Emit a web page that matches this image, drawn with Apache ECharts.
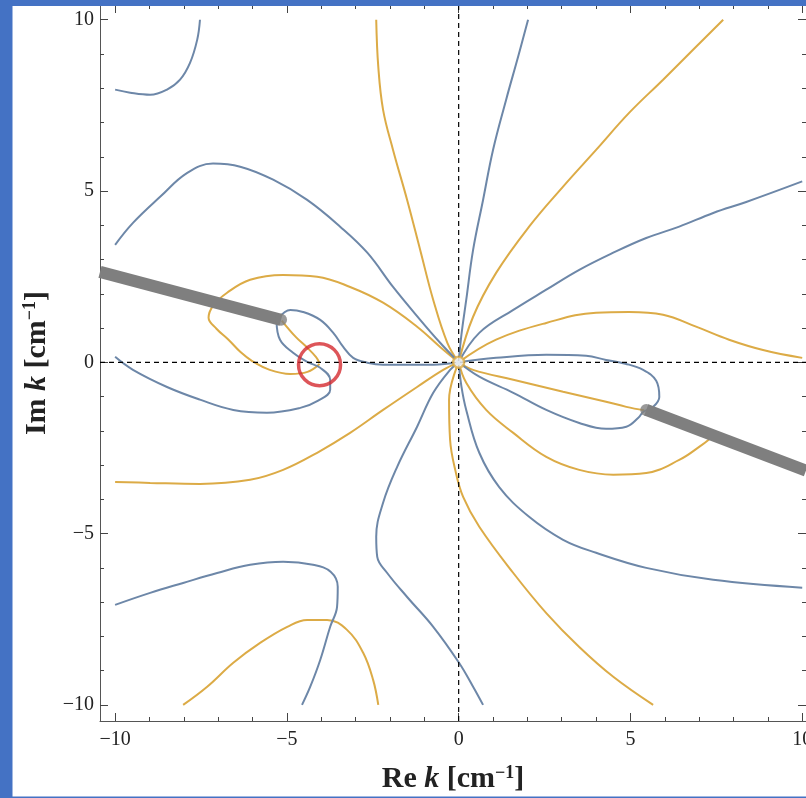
<!DOCTYPE html>
<html>
<head>
<meta charset="utf-8">
<script src="https://cdn.jsdelivr.net/npm/echarts@6/dist/echarts.min.js"></script>
<style>
html,body{margin:0;padding:0;background:#fff;overflow:hidden;}
#chart{width:806px;height:798px;}
</style>
</head>
<body>
<div id="chart"></div>
<script>
// ---- axis ticks / labels ----
const minorTicks = [-10,-9,-8,-7,-6,-5,-4,-3,-2,-1,0,1,2,3,4,5,6,7,8,9,10];
const majorTicks = [-10,-5,0,5,10];

// ---- blue contours (Re) ----
const blueTopLeft = [[-10,7.96],[-9.56,7.87],[-8.98,7.81],[-8.49,7.96],[-8.11,8.25],[-7.82,8.74],[-7.61,9.42],[-7.53,10]];
const blueLeftArch = [[-10,3.43],[-9.48,4.07],[-8.69,4.83],[-7.90,5.53],[-7.15,5.80],[-6.36,5.71],[-5.40,5.33],[-4.41,4.74],[-3.45,3.96],[-2.66,3.20],[-1.91,2.20],[-1.12,1.24],[-0.54,0.57],[0,0]];
const blueUpRight = [[0,0],[0.08,0.8],[0.22,1.82],[0.42,3.28],[0.71,4.74],[1.00,6.20],[1.38,7.66],[1.73,8.92],[2.02,10]];
const blueRight = [[0,0],[0.60,0.86],[1.59,1.53],[2.55,2.12],[3.51,2.70],[4.50,3.20],[5.46,3.63],[6.42,3.96],[7.41,4.36],[8.37,4.68],[10,5.28]];
const blueRightLoop = [[0,0],[1.09,0.13],[2.55,0.22],[3.71,0.19],[4.29,0.07],[4.85,-0.04],[5.37,-0.22],[5.75,-0.54],[5.84,-1.01],[5.66,-1.30],[5.37,-1.45],[5.23,-1.62],[4.88,-1.88],[4.29,-1.94],[3.51,-1.77],[2.55,-1.39],[1.59,-0.89],[0.60,-0.42],[0,0]];
const blueLowRight = [[0,0],[0.08,-0.7],[0.22,-1.39],[0.60,-2.64],[1.18,-3.64],[2.05,-4.51],[3.04,-5.18],[4.00,-5.56],[5.46,-6.00],[7.41,-6.35],[10,-6.58]];
const blueDown = [[0,0],[-0.25,-0.22],[-0.74,-0.89],[-1.21,-1.88],[-1.79,-3.05],[-2.20,-4.10],[-2.40,-5.09],[-2.37,-5.68],[-2.08,-6.15],[-1.50,-6.85],[-0.74,-7.72],[0.01,-8.77],[0.42,-9.47],[0.71,-10]];
const blueLowLeft = [[-10,-7.08],[-8.98,-6.73],[-8.02,-6.44],[-7.03,-6.15],[-6.07,-5.91],[-5.11,-5.82],[-4.24,-5.91],[-3.72,-6.12],[-3.52,-6.55],[-3.54,-7.14],[-3.74,-7.72],[-4.03,-8.69],[-4.32,-9.47],[-4.56,-10]];
const blueHookUpper = [[-5.25,1.28],[-4.90,1.53],[-4.53,1.47],[-4.03,1.24],[-3.65,0.86],[-3.36,0.45],[-3.07,0.13],[-2.66,-0.01],[-2.20,-0.07],[-0.74,-0.07],[0,0]];
const blueHookLower = [[-5.30,1.20],[-5.20,0.66],[-4.82,0.28],[-4.41,0.01],[-4.03,-0.16],[-3.74,-0.51],[-3.74,-0.80],[-4.09,-1.12],[-4.61,-1.33],[-5.58,-1.47],[-6.56,-1.39],[-7.53,-1.09],[-8.49,-0.72],[-9.48,-0.22],[-10,0.16]];

// ---- orange contours (Im) ----
const orangeUpLeft = [[-2.40,10],[-2.34,8.63],[-2.20,7.37],[-1.91,6.20],[-1.50,4.74],[-1.12,3.28],[-0.74,1.82],[-0.33,0.57],[0,0]];
const orangeUpRight = [[0,0],[0.42,1.33],[1.09,2.61],[2.05,3.96],[3.04,5.13],[4.00,6.20],[4.96,7.28],[5.95,8.25],[6.91,9.21],[7.70,10]];
const orangeRight = [[0,0],[1.09,0.66],[2.55,1.15],[4.00,1.45],[4.96,1.47],[5.95,1.39],[6.91,1.04],[7.87,0.66],[8.86,0.36],[10,0.13]];
const orangeToCut = [[0,0],[0.42,-0.22],[1.59,-0.51],[3.04,-0.86],[4.29,-1.15],[4.88,-1.30],[5.40,-1.40]];
const orangeRightLoop = [[0,0],[0.22,-0.60],[0.80,-1.39],[1.59,-2.06],[2.55,-2.76],[3.51,-3.14],[4.50,-3.28],[5.46,-3.23],[6.42,-2.85],[7.00,-2.47],[7.35,-2.20]];
const orangeDownRight = [[0,0],[-0.28,-1.10],[-0.25,-2.26],[-0.10,-3.14],[0.13,-3.93],[0.60,-4.80],[1.59,-6.15],[2.55,-7.32],[3.51,-8.31],[4.50,-9.18],[5.66,-10]];
const orangeLeft = [[-10,-3.49],[-8.98,-3.52],[-7.53,-3.55],[-6.07,-3.43],[-5.11,-3.14],[-4.12,-2.64],[-3.16,-2.06],[-2.20,-1.39],[-1.21,-0.72],[-0.45,-0.22],[0,0]];
const orangeLowArc = [[-8.02,-10],[-7.32,-9.47],[-6.56,-8.77],[-5.78,-8.19],[-4.99,-7.72],[-4.41,-7.52],[-3.83,-7.52],[-3.25,-7.81],[-2.78,-8.48],[-2.49,-9.27],[-2.34,-10]];
const orangeLeftLoop = [[0,0],[-0.54,0.45],[-1.21,1.04],[-2.20,1.74],[-3.16,2.20],[-4.12,2.50],[-5.11,2.55],[-6.07,2.41],[-6.74,2.03],[-7.15,1.65],[-7.28,1.30],[-7.05,0.98],[-6.70,0.66],[-6.35,0.30],[-6.00,0.03],[-5.50,-0.22],[-4.90,-0.34],[-4.40,-0.28],[-4.05,-0.05]];
const orangeCutToSaddle = [[-5.15,1.22],[-4.75,0.75],[-4.40,0.42],[-4.15,0.15],[-4.05,-0.02]];

// ---- branch cuts, markers ----
const cutLeft = [[-10.44,2.64],[-5.17,1.24]];
const cutRight = [[5.46,-1.39],[10.11,-3.16]];
const cutEnds = [[-5.17,1.24],[5.46,-1.39]];
const originPoint = [[0,0]];
const saddlePoint = [[-4.05,-0.07]];

const X_MIN = -10.44, X_MAX = 10.11, Y_MIN = -10.47, Y_MAX = 10.43;

const BLUE = '#6d87a8', ORANGE = '#dcab46', GRAY = '#7f7f7f', RED = '#d42a30';
const FONT = '"Liberation Serif","DejaVu Serif",serif';

const blueCurves = [blueTopLeft, blueLeftArch, blueUpRight, blueRight, blueRightLoop, blueLowRight, blueDown, blueLowLeft, blueHookUpper, blueHookLower];
const orangeCurves = [orangeUpLeft, orangeUpRight, orangeRight, orangeToCut, orangeRightLoop, orangeDownRight, orangeLeft, orangeLowArc, orangeLeftLoop, orangeCutToSaddle];

function curve(data, color) {
  return {type:'line', data, showSymbol:false, smooth:0.4, silent:true, z:2,
          lineStyle:{color, width:2}};
}
const series = [];
orangeCurves.forEach(d => series.push(curve(d, ORANGE)));
blueCurves.forEach(d => series.push(curve(d, BLUE)));
series.push({type:'line', data:[[0,Y_MIN],[0,Y_MAX]], showSymbol:false, silent:true, z:3,
  lineStyle:{color:'#000', width:1.2, type:[5,4]}});
series.push({type:'line', data:[[X_MIN,0],[X_MAX,0]], showSymbol:false, silent:true, z:3,
  lineStyle:{color:'#000', width:1.2, type:[5,4]}});
[cutLeft, cutRight].forEach(d => series.push({type:'line', data:d, showSymbol:false, silent:true, z:4,
  lineStyle:{color:GRAY, width:12, cap:'butt'}}));
series.push({type:'scatter', data:cutEnds, symbol:'circle', symbolSize:12, silent:true, z:4,
  itemStyle:{color:GRAY}});
series.push({type:'scatter', data:originPoint, symbol:'circle', symbolSize:11, silent:true, z:5,
  itemStyle:{color:'#fff', borderColor:ORANGE, borderWidth:2.5}});
series.push({type:'scatter', data:saddlePoint, symbol:'circle', symbolSize:42, silent:true, z:6,
  itemStyle:{color:'rgba(0,0,0,0)', borderColor:RED, borderWidth:3.5}});

const fmt = v => v < 0 ? '\u2212' + Math.abs(v) : String(v);
const nameRich = {
  b:{fontFamily:FONT, fontWeight:'bold', fontSize:30, color:'#222'},
  i:{fontFamily:FONT, fontWeight:'bold', fontStyle:'italic', fontSize:30, color:'#222'},
  s:{fontFamily:FONT, fontWeight:'bold', fontSize:18, color:'#222', verticalAlign:'top', lineHeight:18}
};
const axisLineStyle = {show:true, onZero:false, lineStyle:{color:'#555', width:1}};

function mkAxis(kind, position, ticks, len, withLabels) {
  return {type:'value', min: kind === 'x' ? X_MIN : Y_MIN, max: kind === 'x' ? X_MAX : Y_MAX,
    position, gridIndex:0,
    axisLine: ticks === minorTicks ? axisLineStyle : {show:false, onZero:false},
    axisTick:{show:true, inside:true, length:len, customValues:ticks, lineStyle:{color:'#444', width:1}},
    axisLabel: withLabels ? {show:true, customValues:majorTicks, formatter:fmt, margin: kind === 'x' ? 9 : 6,
       fontFamily:FONT, fontSize:20, color:'#222'} : {show:false},
    splitLine:{show:false}};
}

const xAxes = [mkAxis('x','bottom', minorTicks, 4, false), mkAxis('x','bottom', majorTicks, 8, true),
               mkAxis('x','top', minorTicks, 4, false), mkAxis('x','top', majorTicks, 8, false)];
xAxes[1].name = '{b|Re }{i|k}{b| [cm}{s|\u22121}{b|]}';
xAxes[1].nameLocation = 'middle';
xAxes[1].nameGap = 43;
xAxes[1].nameTextStyle = {rich:nameRich};
const yAxes = [mkAxis('y','left', minorTicks, 4, false), mkAxis('y','left', majorTicks, 8, true),
               mkAxis('y','right', minorTicks, 4, false), mkAxis('y','right', majorTicks, 8, false)];
yAxes[1].name = '{b|Im }{i|k}{b| [cm}{s|\u22121}{b|]}';
yAxes[1].nameLocation = 'middle';
yAxes[1].nameGap = 48;
yAxes[1].nameTextStyle = {rich:nameRich};

const chart = echarts.init(document.getElementById('chart'), null, {renderer:'canvas', width:806, height:798});
chart.setOption({
  animation:false,
  backgroundColor:'#fff',
  grid:{left:100, right:0, top:5, bottom:77, containLabel:false, outerBoundsMode:'none'},
  xAxis:xAxes,
  yAxis:yAxes,
  series:series.map(s => Object.assign({xAxisIndex:0, yAxisIndex:0}, s)),
  graphic:[
    {type:'rect', left:0, top:0, shape:{width:12.5, height:798}, style:{fill:'#4472c4'}, z:100},
    {type:'rect', left:0, top:0, shape:{width:806, height:6}, style:{fill:'#4472c4'}, z:100},
    {type:'rect', left:0, top:796.5, shape:{width:806, height:2}, style:{fill:'#4472c4'}, z:100}
  ]
});
</script>
</body>
</html>
